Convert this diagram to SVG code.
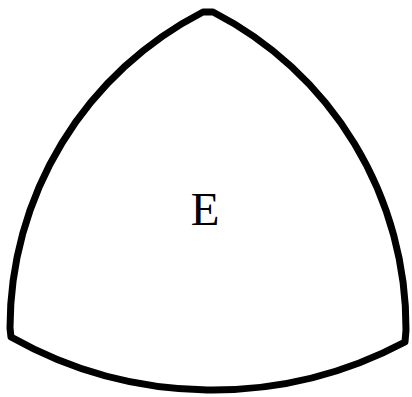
<svg xmlns="http://www.w3.org/2000/svg" width="412" height="397" viewBox="0 0 412 397">
<style>
.edge{fill:none;stroke:#000;stroke-width:7;stroke-linejoin:round}
.lbl{font-family:"Liberation Serif","DejaVu Serif",serif;font-size:47px;fill:#000}
</style>
<rect width="412" height="397" fill="#fff"/>
<g id="shape">
<path class="edge" d="M11,337 A410,410 0 0 0 405,342 L406,330 A355,355 0 0 0 213,12 L203,12 A355,355 0 0 0 10,328 Z"/>
</g>
<g id="label">
<text class="lbl" x="205" y="225" text-anchor="middle">E</text>
</g>
</svg>
